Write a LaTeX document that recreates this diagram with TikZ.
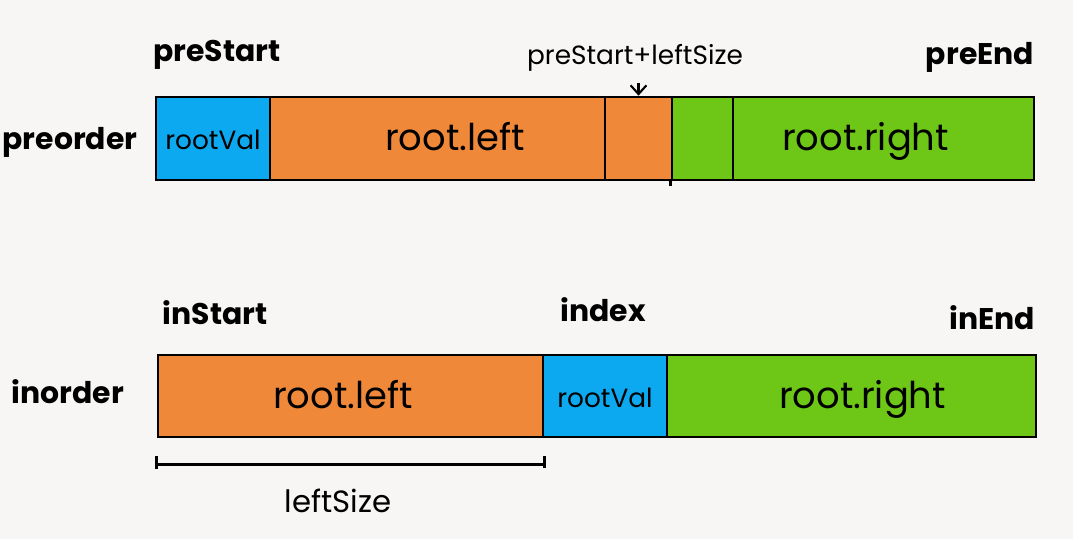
\documentclass[tikz,border=0pt]{standalone}
\usepackage{fontspec}
\setmainfont{Poppins}
\usetikzlibrary{arrows.meta}
\definecolor{segblue}{RGB}{12,168,240}
\definecolor{segorange}{RGB}{240,136,58}
\definecolor{seggreen}{RGB}{110,198,22}
\definecolor{paper}{RGB}{247,246,244}

\begin{document}
\begin{tikzpicture}[seg/.style={draw=black,line width=1.5pt,inner sep=0pt,minimum height=1.66cm},
    segtext/.style={inner sep=0pt,text height=18pt,text depth=4pt,font=\fontsize{21}{24}\selectfont},
    valtext/.style={inner sep=0pt,text height=16pt,text depth=3pt,font=\fontsize{15}{18}\selectfont},
    tag/.style={anchor=base,font=\bfseries\fontsize{17}{20}\selectfont},
    idx/.style={anchor=base,font=\fontsize{15}{18}\selectfont}]
            \fill[paper] (0,0) rectangle (21.46,-10.78);
            \useasboundingbox (0,0) rectangle (21.46,-10.78);

            % preorder
            \node[seg,fill=segblue,minimum width=2.28cm] (pb) at (4.26,-2.77) {};
            \node[seg,fill=segorange,minimum width=6.7cm] (po1) at (8.75,-2.77) {};
            \node[seg,fill=segorange,minimum width=1.34cm] (po2) at (12.77,-2.77) {};
            \node[seg,fill=seggreen,minimum width=1.22cm] (pg1) at (14.05,-2.77) {};
            \node[seg,fill=seggreen,minimum width=6.02cm] (pg2) at (17.67,-2.77) {};
            \node[valtext] (pbtext) at (pb.center) {rootVal};
            \node[segtext] (po1text) at ([xshift=0.35cm]po1.center) {root.left};
            \node[segtext] (pg2text) at ([xshift=-0.36cm]pg2.center) {root.right};

            % inorder
            \node[seg,fill=segorange,minimum width=7.7cm,minimum height=1.64cm] (io) at (7.01,-7.92) {};
            \node[seg,fill=segblue,minimum width=2.48cm,minimum height=1.64cm] (ib) at (12.1,-7.92) {};
            \node[seg,fill=seggreen,minimum width=7.38cm,minimum height=1.64cm] (ig) at (17.03,-7.92) {};
            \node[segtext] (iotext) at ([xshift=-0.15cm]io.center) {root.left};
            \node[valtext] (ibtext) at (ib.center) {rootVal};
            \node[segtext] (igtext) at ([xshift=0.22cm]ig.center) {root.right};

            % labels
            \node[tag] (preorder) at (1.4,-3.0) {preorder};
            \node[tag] (prestart) at (4.34,-1.24) {preStart};
            \node[tag] (preend) at (19.6,-1.3) {preEnd};
            \node[idx] (presize) at (12.7,-1.3) {preStart+leftSize};
            \node[tag] (inorder) at (1.36,-8.08) {inorder};
            \node[tag] (instart) at (4.3,-6.5) {inStart};
            \node[tag] (index) at (12.06,-6.44) {index};
            \node[tag] (inend) at (19.84,-6.6) {inEnd};
            \node[anchor=base,font=\fontsize{17.5}{20}\selectfont] (leftsize) at (6.76,-10.24) {leftSize};

            \draw[-{Straight Barb[length=5pt,width=9pt]},line width=1.2pt] ([yshift=-0.1cm]po2.north |- presize.south) -- (po2.north);
            \draw[line width=1.5pt] (pg1.south west) -- ++(0,-0.1);

            \draw[line width=1.5pt] ([yshift=-0.36cm]io.south west) -- ([yshift=-0.62cm]io.south west);
            \draw[line width=1.5pt] ([yshift=-0.52cm]io.south west) -- ([yshift=-0.52cm]io.south east);
            \draw[line width=1.5pt] ([yshift=-0.36cm]io.south east) -- ([yshift=-0.6cm]io.south east);
        \end{tikzpicture}
\end{document}
